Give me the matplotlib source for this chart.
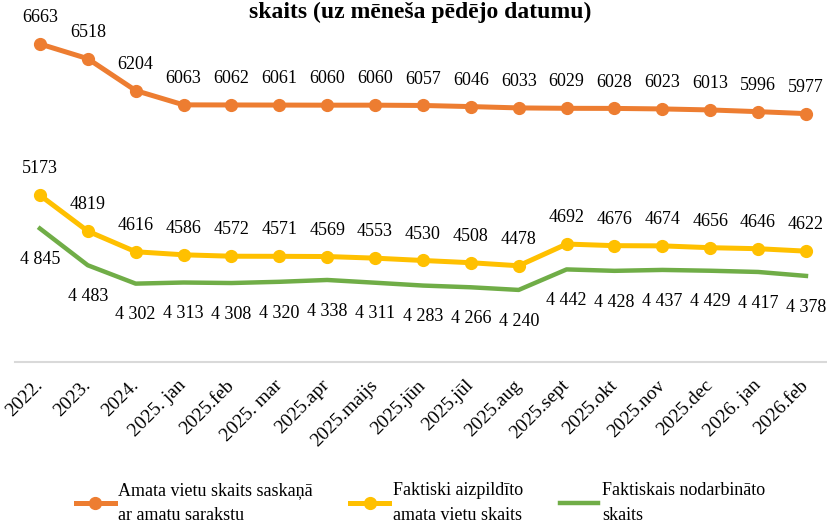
import matplotlib.pyplot as plt

plt.rcParams['font.family'] = ['Liberation Serif', 'DejaVu Serif']

periods = ["2022.", "2023.", "2024.", "2025. jan", "2025.feb", "2025. mar",
           "2025.apr", "2025.maijs", "2025.jūn", "2025.jūl", "2025.aug",
           "2025.sept", "2025.okt", "2025.nov", "2025.dec", "2026. jan",
           "2026.feb"]
amata_vietas = [6663, 6518, 6204, 6063, 6062, 6061, 6060, 6060, 6057, 6046,
                6033, 6029, 6028, 6023, 6013, 5996, 5977]
aizpilditas = [5173, 4819, 4616, 4586, 4572, 4571, 4569, 4553, 4530, 4508,
               4478, 4692, 4676, 4674, 4656, 4646, 4622]
nodarbinati = [4845, 4483, 4302, 4313, 4308, 4320, 4338, 4311, 4283, 4266,
               4240, 4442, 4428, 4437, 4429, 4417, 4378]

orange = "#ED7D31"
yellow = "#FFC000"
green = "#70AD47"

fig = plt.figure(figsize=(8.28, 5.23), dpi=100)
ax = fig.add_axes([15/828, 161/523, 813/828, 362/523])

x = list(range(len(periods)))
ax.plot(x, amata_vietas, color=orange, lw=3.6, marker='o', ms=8.5,
        label="Amata vietu skaits saskaņā\nar amatu sarakstu", clip_on=False)
ax.plot(x, aizpilditas, color=yellow, lw=3.6, marker='o', ms=8.5,
        label="Faktiski aizpildīto\namata vietu skaits", clip_on=False)
ax.plot(x, nodarbinati, color=green, lw=3.2,
        label="Faktiskais nodarbināto\nskaits", clip_on=False)

for i in x:
    ax.annotate(str(amata_vietas[i]), (i, amata_vietas[i]), xytext=(0, 19),
                textcoords='offset points', ha='center', va='center', fontsize=13)
    ax.annotate(str(aizpilditas[i]), (i, aizpilditas[i]), xytext=(0, 19),
                textcoords='offset points', ha='center', va='center', fontsize=13)
    ax.annotate(f"{nodarbinati[i]:,}".replace(",", " "), (i, nodarbinati[i]),
                xytext=(0, -22.5), textcoords='offset points',
                ha='center', va='center', fontsize=13)

ax.set_xlim(-0.52, 16.46)
ax.set_ylim(3530, 7096)
for s in ['top', 'left', 'right']:
    ax.spines[s].set_visible(False)
ax.spines['bottom'].set_color('#D9D9D9')
ax.spines['bottom'].set_linewidth(1.5)
ax.set_yticks([])
ax.set_xticks(x)
ax.set_xticklabels(periods, rotation=45, ha='right', va='center',
                   rotation_mode='anchor', fontsize=14)
ax.tick_params(axis='x', length=0, pad=15)
ax.patch.set_visible(False)

fig.text(0.508, 1 - 18/523, "skaits (uz mēneša pēdējo datumu)",
         ha='center', va='baseline', fontsize=17, fontweight='bold')

leg = fig.legend(loc='center', bbox_to_anchor=(0.508, 0.038), ncol=3,
                 frameon=False, fontsize=13, handlelength=2.15,
                 columnspacing=2.05, handletextpad=0.2, borderpad=0)
for t in leg.get_texts():
    t.set_linespacing(1.6)

fig.savefig("out.png", dpi=100)
